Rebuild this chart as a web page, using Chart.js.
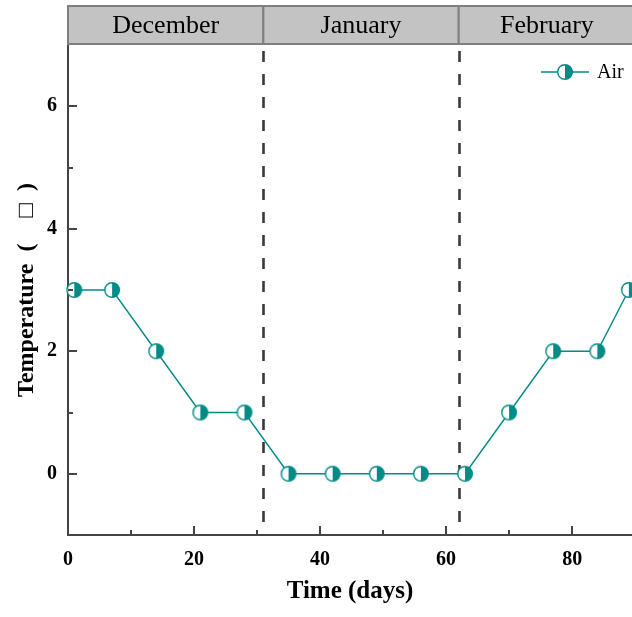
<!DOCTYPE html>
<html>
<head>
<meta charset="utf-8">
<script src="https://cdn.jsdelivr.net/npm/chart.js@4/dist/chart.umd.min.js"></script>
<style>
html,body{margin:0;padding:0;background:#fff;overflow:hidden;}
canvas{display:block;}
</style>
</head>
<body>
<canvas id="c" width="632" height="617"></canvas>
<script>
// ---- data ----
const days = [1, 7, 14, 21, 28, 35, 42, 49, 56, 63, 70, 77, 84, 89];
const airTemp = [3, 3, 2, 1, 1, 0, 0, 0, 0, 0, 1, 2, 2, 3];
const monthNames = ['December', 'January', 'February'];
const monthBounds = [0, 31, 62, 90];
const xTickLabels = [0, 20, 40, 60, 80];
const xMinorTicks = [10, 30, 50, 70];
const yTickLabels = [0, 2, 4, 6];
const yMinorTicks = [1, 3, 5];
const seriesName = 'Air';

const TEAL = '#008b87';
const SERIF = '"Liberation Serif", "Times New Roman", serif';

// half-filled circle marker (left white, right teal)
function makeMarker(r) {
  const s = Math.ceil(r * 2 + 3);
  const cv = document.createElement('canvas');
  cv.width = s; cv.height = s;
  const g = cv.getContext('2d');
  const c = s / 2;
  g.beginPath(); g.arc(c, c, r, Math.PI / 2, Math.PI * 1.5); g.closePath();
  g.fillStyle = '#fff'; g.fill();
  g.beginPath(); g.arc(c, c, r, -Math.PI / 2, Math.PI / 2); g.closePath();
  g.fillStyle = TEAL; g.fill();
  g.beginPath(); g.arc(c, c, r, 0, Math.PI * 2);
  g.strokeStyle = TEAL; g.lineWidth = 1.4; g.stroke();
  return cv;
}
const marker = makeMarker(7.3);

const decorPlugin = {
  id: 'decor',
  beforeDatasetsDraw(chart) {
    const ctx = chart.ctx, x = chart.scales.x, a = chart.chartArea;
    ctx.save();
    ctx.strokeStyle = '#3a3a3a';
    ctx.lineWidth = 2.6;
    ctx.setLineDash([11, 12]);
    for (let i = 1; i < monthBounds.length - 1; i++) {
      const px = Math.round(x.getPixelForValue(monthBounds[i])) + 0.5;
      ctx.beginPath(); ctx.moveTo(px, a.top + 6); ctx.lineTo(px, a.bottom); ctx.stroke();
    }
    ctx.restore();
  },
  afterDraw(chart) {
    const ctx = chart.ctx, x = chart.scales.x, y = chart.scales.y, a = chart.chartArea;
    ctx.save();
    // tick marks (inward)
    ctx.strokeStyle = '#444'; ctx.lineWidth = 2;
    const tickX = (v, len) => {
      const px = Math.round(x.getPixelForValue(v));
      ctx.beginPath(); ctx.moveTo(px, a.bottom); ctx.lineTo(px, a.bottom - len); ctx.stroke();
    };
    const tickY = (v, len) => {
      const py = Math.round(y.getPixelForValue(v));
      ctx.beginPath(); ctx.moveTo(a.left, py); ctx.lineTo(a.left + len, py); ctx.stroke();
    };
    xTickLabels.forEach(v => tickX(v, 9));
    xMinorTicks.forEach(v => tickX(v, 5));
    yTickLabels.forEach(v => tickY(v, 9));
    yMinorTicks.forEach(v => tickY(v, 5));

    // month header boxes
    const top = 6, bot = a.top - 1;
    for (let i = 0; i < monthNames.length; i++) {
      const l = x.getPixelForValue(monthBounds[i]);
      const r = x.getPixelForValue(monthBounds[i + 1]);
      ctx.fillStyle = '#c3c3c3';
      ctx.fillRect(l, top, r - l, bot - top);
      ctx.strokeStyle = '#7f7f7f'; ctx.lineWidth = 2;
      ctx.strokeRect(l, top, r - l, bot - top);
      ctx.fillStyle = '#000';
      ctx.font = '26px ' + SERIF;
      ctx.textAlign = 'center'; ctx.textBaseline = 'middle';
      ctx.fillText(monthNames[i], (l + r) / 2, (top + bot) / 2 + 1);
    }

    // legend
    const ly = 72;
    ctx.strokeStyle = TEAL; ctx.lineWidth = 1.4;
    ctx.beginPath(); ctx.moveTo(541, ly); ctx.lineTo(589, ly); ctx.stroke();
    ctx.drawImage(marker, 565 - marker.width / 2, ly - marker.height / 2);
    ctx.fillStyle = '#000';
    ctx.font = '20px ' + SERIF;
    ctx.textAlign = 'left'; ctx.textBaseline = 'middle';
    ctx.fillText(seriesName, 597, ly + 1);
    ctx.restore();
  }
};

new Chart(document.getElementById('c'), {
  type: 'line',
  data: {
    datasets: [{
      label: seriesName,
      data: days.map((d, i) => ({ x: d, y: airTemp[i] })),
      borderColor: TEAL,
      borderWidth: 1.4,
      pointStyle: marker,
      pointRadius: 7,
      pointHoverRadius: 7,
      tension: 0,
      clip: false
    }]
  },
  options: {
    responsive: false,
    devicePixelRatio: 1,
    animation: false,
    events: [],
    layout: { autoPadding: false, padding: { top: 45, left: 0, right: 0, bottom: 0 } },
    plugins: { legend: { display: false }, tooltip: { enabled: false } },
    scales: {
      x: {
        type: 'linear',
        min: 0, max: 89.5,
        afterBuildTicks: s => { s.ticks = xTickLabels.map(v => ({ value: v })); },
        afterFit: s => { s.height = 82; s.paddingLeft = 0; s.paddingRight = 0; },
        grid: { drawOnChartArea: false, drawTicks: false },
        border: { display: true, color: '#444', width: 2 },
        ticks: {
          padding: 13, color: '#000', maxRotation: 0,
          font: { family: SERIF, size: 20, weight: 'bold' }
        },
        title: {
          display: true, text: 'Time (days)', color: '#000',
          font: { family: SERIF, size: 25, weight: 'bold' },
          padding: { top: 0, bottom: 10 }
        }
      },
      y: {
        min: -1, max: 7,
        afterBuildTicks: s => { s.ticks = yTickLabels.map(v => ({ value: v })); },
        afterFit: s => { s.width = 68; s.paddingTop = 0; s.paddingBottom = 0; },
        grid: { drawOnChartArea: false, drawTicks: false },
        border: { display: true, color: '#444', width: 2 },
        ticks: {
          padding: 11, color: '#000',
          font: { family: SERIF, size: 20, weight: 'bold' }
        },
        title: {
          display: true, text: 'Temperature\u2002(\u2002\u2004 \u25A1\u2002)', color: '#000',
          font: { family: SERIF, size: 24, weight: 'bold' },
          padding: { top: 12, bottom: 0 }
        }
      }
    }
  },
  plugins: [decorPlugin]
});
</script>
</body>
</html>
